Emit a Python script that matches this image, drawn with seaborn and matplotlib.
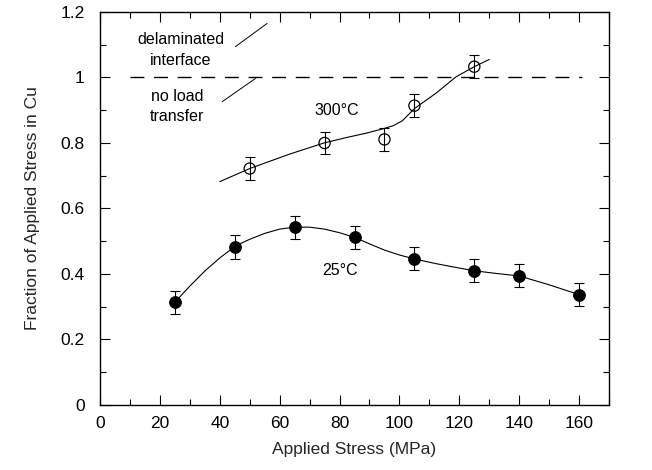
import matplotlib
matplotlib.use("Agg")
import matplotlib.pyplot as plt
from matplotlib.ticker import MultipleLocator
import numpy as np
import pandas as pd
import seaborn as sns

# Measured fraction of applied stress carried by Cu
stress_25 = [25, 45, 65, 85, 105, 125, 140, 160]
frac_25 = [0.314, 0.482, 0.543, 0.512, 0.446, 0.410, 0.394, 0.337]
err_25 = [0.035, 0.036, 0.035, 0.035, 0.035, 0.035, 0.035, 0.035]

stress_300 = [50, 75, 95, 105, 125]
frac_300 = [0.722, 0.800, 0.811, 0.914, 1.033]
err_300 = [0.035, 0.035, 0.035, 0.035, 0.035]

# Guide-to-the-eye curves through the data
curve_25_x = [25, 30, 35, 40, 43, 46, 50, 55, 60, 65, 70, 75, 80, 85,
              90, 95, 100, 105, 112, 120, 125, 132, 140, 150, 160]
curve_25_y = [0.314, 0.363, 0.409, 0.449, 0.470, 0.489, 0.506,
              0.524, 0.537, 0.543, 0.543, 0.537, 0.526, 0.512, 0.492, 0.473,
              0.458, 0.446, 0.432, 0.418, 0.410, 0.402, 0.394, 0.367, 0.337]

curve_300_x = [40, 50, 63.3, 74.8, 82, 88.9, 94.4, 98, 101, 105, 112.2, 118.9, 125, 130]
curve_300_y = [0.682, 0.722, 0.766, 0.800, 0.816, 0.830, 0.843, 0.853, 0.868,
               0.905, 0.952, 1.002, 1.033, 1.055]

sns.set_style("ticks")
plt.rcParams["font.family"] = ["Liberation Sans", "DejaVu Sans"]

fig = plt.figure(figsize=(6.52, 4.70), dpi=100)
ax = fig.add_axes([0.1534, 0.1383, 0.7807, 0.8362])

# reference level: no load transfer
ax.plot([10, 161], [1, 1], color="black", lw=1.0, ls=(0, (10, 7)))

sns.lineplot(x=curve_25_x, y=curve_25_y, ax=ax, color="black", lw=0.8, sort=False)
sns.lineplot(x=curve_300_x, y=curve_300_y, ax=ax, color="black", lw=0.8, sort=False)

ax.errorbar(stress_25, frac_25, yerr=err_25, fmt="none", ecolor="black",
            elinewidth=0.8, capsize=3.5, capthick=0.8, zorder=3)
ax.errorbar(stress_300, frac_300, yerr=err_300, fmt="none", ecolor="black",
            elinewidth=0.8, capsize=3.5, capthick=0.8, zorder=3)

df25 = pd.DataFrame({"stress": stress_25, "frac": frac_25})
df300 = pd.DataFrame({"stress": stress_300, "frac": frac_300})
sns.scatterplot(data=df25, x="stress", y="frac", ax=ax, s=70, color="black",
                edgecolor="black", linewidth=0.8, zorder=4)
sns.scatterplot(data=df300, x="stress", y="frac", ax=ax, s=65, facecolor="none",
                edgecolor="black", linewidth=0.9, zorder=4)

# annotations
txt = dict(fontsize=11.5, color="black", ha="center", va="center")
ax.text(27, 1.115, "delaminated", **txt)
ax.text(27, 1.053, "interface", **txt)
ax.plot([45.2, 55.8], [1.094, 1.165], color="black", lw=0.7)
ax.text(25.8, 0.941, "no load", **txt)
ax.text(25.8, 0.880, "transfer", **txt)
ax.plot([40.8, 51.9], [0.926, 0.997], color="black", lw=0.7)
ax.text(79, 0.900, "300°C", **txt)
ax.text(80.2, 0.412, "25°C", **txt)

ax.set_xlim(0, 170)
ax.set_ylim(0, 1.2)
ax.xaxis.set_minor_locator(MultipleLocator(10))
ax.yaxis.set_minor_locator(MultipleLocator(0.1))
ax.set_xticks(np.arange(0, 161, 20))
ax.set_xticklabels([str(v) for v in range(0, 161, 20)])
ax.set_yticks([0, 0.2, 0.4, 0.6, 0.8, 1.0, 1.2])
ax.set_yticklabels(["0", "0.2", "0.4", "0.6", "0.8", "1", "1.2"])
ax.tick_params(which="both", direction="in", top=True, right=True, colors="black",
               labelsize=12.5, width=0.8)
ax.tick_params(axis="y", which="major", length=7, pad=11)
ax.tick_params(axis="x", which="major", length=7, pad=8)
ax.tick_params(which="minor", length=4)
for sp in ax.spines.values():
    sp.set_visible(True)
    sp.set_color("black")
    sp.set_linewidth(1.0)

ax.set_xlabel("Applied Stress (MPa)", fontsize=12.5, labelpad=8)
ax.set_ylabel("Fraction of Applied Stress in Cu", fontsize=12.5, labelpad=15)

fig.savefig("out.png", dpi=100)
